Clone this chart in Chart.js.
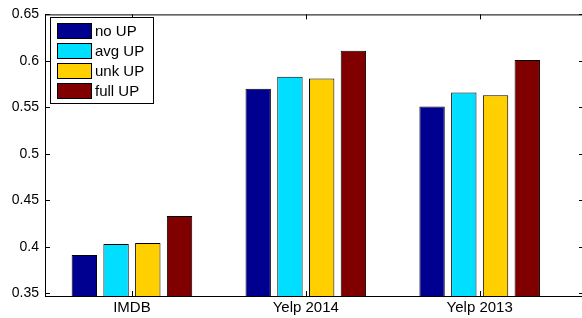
<!DOCTYPE html>
<html>
<head>
<meta charset="utf-8">
<script src="https://cdn.jsdelivr.net/npm/chart.js@4.4.0/dist/chart.umd.min.js"></script>
<style>
    html, body { margin: 0; padding: 0; background: #fff; overflow: hidden; }
    #wrap { position: relative; width: 584px; height: 318px; }
</style>
</head>
<body>
<div id="wrap"><canvas id="chart"></canvas></div>
<script>
// Chart data
const categories = ['IMDB', 'Yelp 2014', 'Yelp 2013'];
const seriesNames = ['no UP', 'avg UP', 'unk UP', 'full UP'];
const noUP = [0.391, 0.570, 0.551];
const avgUP = [0.403, 0.583, 0.566];
const unkUP = [0.404, 0.581, 0.563];
const fullUP = [0.433, 0.611, 0.601];
const yTicks = [0.35, 0.4, 0.45, 0.5, 0.55, 0.6, 0.65];

const colors = ['#000090', '#00dfff', '#ffcf00', '#800000'];
const FONT = '"Liberation Sans", Arial, Helvetica, sans-serif';

/**
 * Box around the plot with inward tick marks (matlab look)
 */
const framePlugin = {
    id: 'frame',
    afterDatasetsDraw(chart) {
        const { ctx, chartArea: a, scales } = chart;
        ctx.save();
        ctx.strokeStyle = '#000';
        ctx.lineWidth = 1;
        ctx.strokeRect(a.left + 0.5, a.top + 0.5, a.right - a.left - 1, a.bottom - a.top);
        ctx.beginPath();
        scales.y.ticks.forEach(t => {
            const y = Math.round(scales.y.getPixelForValue(t.value)) + 0.5;
            ctx.moveTo(a.left, y); ctx.lineTo(a.left + 5, y);
            ctx.moveTo(a.right, y); ctx.lineTo(a.right - 5, y);
        });
        scales.x.ticks.forEach(t => {
            const x = Math.round(scales.x.getPixelForValue(t.value)) + 0.5;
            ctx.moveTo(x, a.bottom); ctx.lineTo(x, a.bottom - 5);
            ctx.moveTo(x, a.top); ctx.lineTo(x, a.top + 5);
        });
        ctx.stroke();
        ctx.restore();
    }
};

/**
 * Boxed legend inside the plot area
 */
const boxLegendPlugin = {
    id: 'boxLegend',
    afterDraw(chart, args, opts) {
        const ctx = chart.ctx;
        ctx.save();
        ctx.fillStyle = '#fff';
        ctx.fillRect(opts.x, opts.y, opts.w, opts.h);
        ctx.strokeStyle = '#000';
        ctx.lineWidth = 1;
        ctx.strokeRect(opts.x + 0.5, opts.y + 0.5, opts.w, opts.h);
        ctx.font = '15px ' + FONT;
        ctx.textBaseline = 'middle';
        chart.data.datasets.forEach((ds, i) => {
            const top = opts.y + opts.pad + i * opts.step;
            ctx.fillStyle = ds.backgroundColor;
            ctx.fillRect(opts.x + 7, top, opts.sw, opts.sh);
            ctx.strokeStyle = '#000';
            ctx.strokeRect(opts.x + 7.5, top + 0.5, opts.sw, opts.sh);
            ctx.fillStyle = '#000';
            ctx.fillText(ds.label, opts.x + opts.sw + 11, top + opts.sh / 2 + 1);
        });
        ctx.restore();
    }
};

const datasets = [noUP, avgUP, unkUP, fullUP].map((vals, i) => ({
    label: seriesNames[i],
    data: vals.map((v, j) => ({ x: j + 1, y: v })),
    backgroundColor: colors[i],
    borderColor: '#000',
    borderWidth: 1,
    categoryPercentage: 0.73,
    barPercentage: 0.8,
    clip: 0
}));

new Chart(document.getElementById('chart'), {
    type: 'bar',
    data: { datasets: datasets },
    options: {
        responsive: true,
        maintainAspectRatio: false,
        animation: false,
        layout: { padding: { top: 13, right: 0, left: 0, bottom: 0 } },
        plugins: {
            legend: { display: false },
            tooltip: { enabled: false },
            boxLegend: { x: 50, y: 17, w: 103, h: 86, pad: 6, step: 20, sw: 34, sh: 15 }
        },
        scales: {
            x: {
                type: 'linear',
                min: 0.5,
                max: 3.6,
                offset: false,
                grid: { display: false, drawTicks: false },
                border: { display: false },
                afterBuildTicks: axis => {
                    axis.ticks = categories.map((c, i) => ({ value: i + 1 }));
                },
                afterFit: axis => { axis.height = 22; },
                ticks: {
                    color: '#000',
                    padding: 3,
                    autoSkip: false,
                    maxRotation: 0,
                    font: { family: FONT, size: 15 },
                    callback: v => categories[v - 1] || ''
                }
            },
            y: {
                min: 0.347,
                max: 0.65,
                grid: { display: false, drawTicks: false },
                border: { display: false },
                afterBuildTicks: axis => {
                    axis.ticks = yTicks.map(v => ({ value: v }));
                },
                afterFit: axis => { axis.width = 45; },
                ticks: {
                    color: '#000',
                    padding: 6,
                    font: { family: FONT, size: 14 },
                    callback: v => String(Number(v.toFixed(2)))
                }
            }
        }
    },
    plugins: [framePlugin, boxLegendPlugin]
});
</script>
</body>
</html>
